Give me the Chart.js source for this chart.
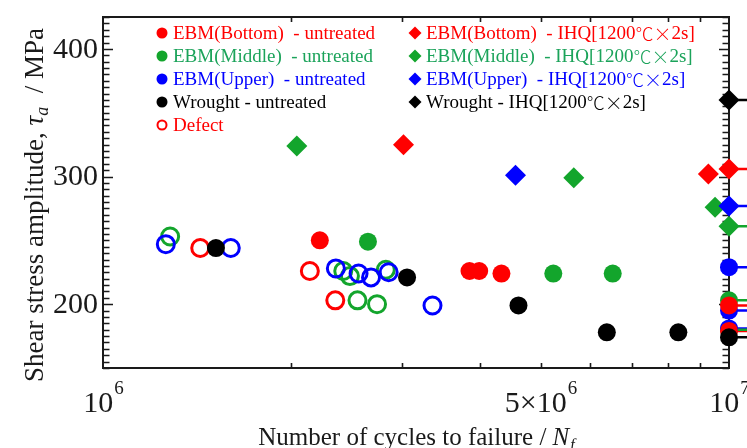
<!DOCTYPE html>
<html><head><meta charset="utf-8">
<script src="https://cdn.jsdelivr.net/npm/chart.js@4.4.1/dist/chart.umd.min.js"></script>
<style>html,body{margin:0;padding:0;background:#fff;}</style>
</head><body>
<canvas id="c" width="747" height="448"></canvas>
<script>
// ---- data (N = cycles to failure, tau = shear stress amplitude, MPa) ----
const bottomUntreatedN   = [2.22e6, 3.85e6, 3.99e6, 4.33e6, 1e7, 1e7];
const bottomUntreatedTau = [250, 226, 226, 224, 199, 179];
const middleUntreatedN   = [2.65e6, 5.24e6, 6.52e6, 1e7, 1e7];
const middleUntreatedTau = [249, 224, 224, 203, 180];
const upperUntreatedN    = [1e7, 1e7, 1e7];
const upperUntreatedTau  = [229, 195, 181];
const wroughtUntreatedN  = [1.515e6, 3.06e6, 4.61e6, 6.38e6, 8.30e6, 1e7];
const wroughtUntreatedTau= [244, 221, 199, 178, 178, 174];

const bottomIHQN   = [3.02e6, 9.27e6, 1e7];
const bottomIHQTau = [325, 302, 306];
const middleIHQN   = [2.04e6, 5.65e6, 9.5e6, 1e7];
const middleIHQTau = [324, 299, 276, 261];
const upperIHQN    = [4.56e6, 1e7];
const upperIHQTau  = [301, 277];
const wroughtIHQN  = [1e7];
const wroughtIHQTau= [360];

const defectBottomN   = [1.43e6, 2.14e6, 2.35e6];
const defectBottomTau = [244, 226, 203];
const defectMiddleN   = [1.28e6, 2.42e6, 2.48e6, 2.83e6, 2.55e6, 2.74e6];
const defectMiddleTau = [253, 226, 222, 227, 203, 200];
const defectUpperN    = [1.26e6, 1.60e6, 2.355e6, 2.56e6, 2.68e6, 2.86e6, 3.36e6];
const defectUpperTau  = [247, 244, 228, 224, 221, 225, 199];

const runoutN = 1e7;
const yTickValues = [200, 300, 400];
const xTickValues = [1e6, 5e6, 1e7];
const xTickMantissa = ['10', '5×10', '10'];
const xTickExponent = ['6', '6', '7'];
const xMinorTicks = [2e6, 3e6, 4e6, 5e6, 6e6, 7e6, 8e6, 9e6];

const legendLeft  = ['EBM(Bottom)  - untreated', 'EBM(Middle)  - untreated', 'EBM(Upper)  - untreated', 'Wrought - untreated', 'Defect'];
const legendRightHead = ['EBM(Bottom)  - IHQ[1200', 'EBM(Middle)  - IHQ[1200', 'EBM(Upper)  - IHQ[1200', 'Wrought - IHQ[1200'];
const legendRightUnit = '℃×';
const legendRightTail = '2s]';

// ---- styles ----
const RED = '#ff0000', GREEN = '#13a52c', BLUE = '#0000ff', BLACK = '#000000';
const LEG_GREEN = '#1ba35a';
const SERIF = "'Liberation Serif','Noto Sans CJK JP',serif";
const CJK = "'Noto Sans CJK JP',sans-serif";
const AXIS = '#1a1a1a';

function pts(n, t) { return n.map((v, i) => ({ x: v, y: t[i] })); }
function filled(label, n, t, c) {
  return { label, data: pts(n, t), pointStyle: 'circle', pointRadius: 9, backgroundColor: c, borderColor: c, borderWidth: 0, clip: false };
}
function diamond(label, n, t, c) {
  return { label, data: pts(n, t), pointStyle: 'rectRot', pointRadius: 10.5, backgroundColor: c, borderColor: c, borderWidth: 0, clip: false };
}
function open(label, n, t, c) {
  return { label, data: pts(n, t), pointStyle: 'circle', pointRadius: 8.5, backgroundColor: 'rgba(0,0,0,0)', borderColor: c, borderWidth: 3, clip: false };
}

const datasets = [
  filled('Wrought - untreated', wroughtUntreatedN, wroughtUntreatedTau, BLACK),
  filled('EBM(Bottom) - untreated', bottomUntreatedN, bottomUntreatedTau, RED),
  filled('EBM(Upper) - untreated', upperUntreatedN, upperUntreatedTau, BLUE),
  filled('EBM(Middle) - untreated', middleUntreatedN, middleUntreatedTau, GREEN),
  diamond('Wrought - IHQ', wroughtIHQN, wroughtIHQTau, BLACK),
  diamond('EBM(Bottom) - IHQ', bottomIHQN, bottomIHQTau, RED),
  diamond('EBM(Upper) - IHQ', upperIHQN, upperIHQTau, BLUE),
  diamond('EBM(Middle) - IHQ', middleIHQN, middleIHQTau, GREEN),
  open('Defect (Upper)', defectUpperN, defectUpperTau, BLUE),
  open('Defect', defectBottomN, defectBottomTau, RED),
  open('Defect (Middle)', defectMiddleN, defectMiddleTau, GREEN)
];

const framePlugin = {
  id: 'frame',
  beforeDatasetsDraw(chart) {
    const { ctx, chartArea: a, scales: { x, y } } = chart;
    ctx.save();
    ctx.strokeStyle = AXIS; ctx.lineWidth = 2;
    ctx.strokeRect(a.left, a.top, a.right - a.left, a.bottom - a.top);
    ctx.lineWidth = 1.6;
    ctx.beginPath();
    for (let v = y.min; v <= y.max + 0.01; v += 5) {
      const py = Math.round(y.getPixelForValue(v)) + 0.5;
      const len = (v % 100 === 0) ? 10 : 6.5;
      ctx.moveTo(a.left, py); ctx.lineTo(a.left + len, py);
      ctx.moveTo(a.right, py); ctx.lineTo(a.right - len, py);
    }
    xMinorTicks.forEach(v => {
      const px = Math.round(x.getPixelForValue(v)) + 0.5;
      ctx.moveTo(px, a.bottom); ctx.lineTo(px, a.bottom - 5);
      ctx.moveTo(px, a.top); ctx.lineTo(px, a.top + 5);
    });
    ctx.stroke();
    // tick labels
    ctx.fillStyle = '#1a1a1a';
    ctx.font = '30px ' + SERIF;
    ctx.textAlign = 'right'; ctx.textBaseline = 'middle';
    yTickValues.forEach(v => ctx.fillText(String(v), a.left - 5, y.getPixelForValue(v) + 1));
    ctx.textBaseline = 'alphabetic'; ctx.textAlign = 'left';
    xTickValues.forEach((v, i) => {
      ctx.font = '30px ' + SERIF;
      const w1 = ctx.measureText(xTickMantissa[i]).width;
      ctx.font = '19px ' + SERIF;
      const w2 = ctx.measureText(xTickExponent[i]).width;
      const cx = x.getPixelForValue(v);
      const sx = cx - (w1 + w2) / 2;
      ctx.font = '30px ' + SERIF;
      ctx.fillText(xTickMantissa[i], sx, a.bottom + 44);
      ctx.font = '19px ' + SERIF;
      ctx.fillText(xTickExponent[i], sx + w1 + 1, a.bottom + 26);
    });
    // axis titles
    ctx.font = '25px ' + SERIF;
    const p1 = 'Number of cycles to failure / ';
    const w1 = ctx.measureText(p1).width;
    ctx.font = 'italic 25px ' + SERIF;
    const w2 = ctx.measureText('N').width;
    ctx.font = 'italic 16px ' + SERIF;
    const w3 = ctx.measureText('f').width;
    let sx = (a.left + a.right) / 2 - (w1 + w2 + w3) / 2;
    const by = 445;
    ctx.font = '25px ' + SERIF; ctx.fillText(p1, sx, by);
    ctx.font = 'italic 25px ' + SERIF; ctx.fillText('N', sx + w1, by);
    ctx.font = 'italic 16px ' + SERIF; ctx.fillText('f', sx + w1 + w2 + 1, by + 5);
    // y title
    ctx.save();
    ctx.translate(43, 205);
    ctx.rotate(-Math.PI / 2);
    const q1 = 'Shear stress amplitude, ', q3 = '  / MPa';
    ctx.font = '27px ' + SERIF; const v1 = ctx.measureText(q1).width; const v3 = ctx.measureText(q3).width;
    ctx.font = 'italic 27px ' + SERIF; const v2 = ctx.measureText('τ').width;
    ctx.font = 'italic 18px ' + SERIF; const v4 = ctx.measureText('a').width;
    let tx = -(v1 + v2 + v4 + v3) / 2;
    ctx.font = '27px ' + SERIF; ctx.fillText(q1, tx, 0); tx += v1;
    ctx.font = 'italic 27px ' + SERIF; ctx.fillText('τ', tx, 0); tx += v2;
    ctx.font = 'italic 18px ' + SERIF; ctx.fillText('a', tx, 5); tx += v4;
    ctx.font = '27px ' + SERIF; ctx.fillText(q3, tx, 0);
    ctx.restore();
    // run-out arrows
    ctx.lineWidth = 2.5;
    chart.data.datasets.forEach(ds => {
      ds.data.forEach(p => {
        if (p.x >= runoutN) {
          const px = x.getPixelForValue(p.x), py = y.getPixelForValue(p.y);
          ctx.strokeStyle = ds.borderColor;
          ctx.beginPath(); ctx.moveTo(px, py); ctx.lineTo(px + 40, py); ctx.stroke();
        }
      });
    });
    ctx.restore();
  },
  afterDraw(chart) {
    const ctx = chart.ctx;
    ctx.save();
    ctx.textBaseline = 'middle'; ctx.textAlign = 'left';
    const rows = [33, 56, 79, 102, 125];
    const colorsL = [RED, LEG_GREEN, BLUE, BLACK, RED];
    const markL = [RED, GREEN, BLUE, BLACK, RED];
    legendLeft.forEach((t, i) => {
      const yy = rows[i];
      ctx.beginPath();
      ctx.arc(162, yy, i === 4 ? 4.5 : 5.5, 0, Math.PI * 2);
      if (i === 4) { ctx.strokeStyle = RED; ctx.lineWidth = 2; ctx.stroke(); }
      else { ctx.fillStyle = markL[i]; ctx.fill(); }
      ctx.fillStyle = colorsL[i];
      ctx.font = '19px ' + SERIF;
      ctx.fillText(t, 173, yy + 1);
    });
    legendRightHead.forEach((t, i) => {
      const yy = rows[i];
      const r = 6.5;
      ctx.fillStyle = markL[i];
      ctx.beginPath();
      ctx.moveTo(415 - r, yy); ctx.lineTo(415, yy - r); ctx.lineTo(415 + r, yy); ctx.lineTo(415, yy + r); ctx.closePath();
      ctx.fill();
      ctx.fillStyle = colorsL[i];
      let tx = 426;
      ctx.font = '19px ' + SERIF;
      ctx.fillText(t, tx, yy + 1); tx += ctx.measureText(t).width;
      ctx.font = '300 18px ' + CJK;
      ctx.fillText(legendRightUnit, tx, yy + 1); tx += ctx.measureText(legendRightUnit).width;
      ctx.font = '19px ' + SERIF;
      ctx.fillText(legendRightTail, tx, yy + 1);
    });
    ctx.restore();
  }
};

new Chart(document.getElementById('c'), {
  type: 'scatter',
  data: { datasets },
  options: {
    responsive: false, animation: false, events: [],
    layout: { padding: { left: 103, right: 18, top: 17, bottom: 80 } },
    plugins: { legend: { display: false }, tooltip: { enabled: false } },
    scales: {
      x: { type: 'logarithmic', min: 1e6, max: 1e7, display: false },
      y: { type: 'linear', min: 150, max: 425, display: false }
    }
  },
  plugins: [framePlugin]
});
</script>
</body></html>
